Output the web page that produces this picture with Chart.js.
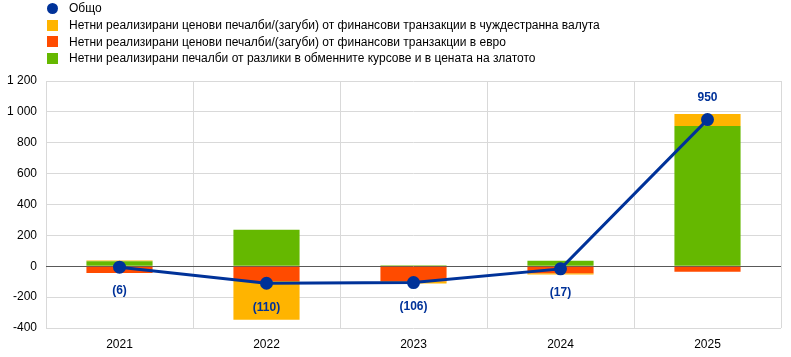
<!DOCTYPE html>
<html><head><meta charset="utf-8">
<script src="https://cdn.jsdelivr.net/npm/chart.js@4/dist/chart.umd.min.js"></script>
<style>
html,body{margin:0;padding:0;background:#fff;}
#wrap{position:relative;width:791px;height:357px;}
#legend{position:absolute;left:47px;top:0px;font-family:"Liberation Sans",Arial,sans-serif;font-size:12px;color:#000;}
.li{height:16.8px;line-height:16.8px;display:flex;align-items:center;}
.mk{width:11px;height:11px;margin-right:11px;flex:none;}
.dot{border-radius:50%;}
</style></head>
<body><div id="wrap"><canvas id="c" width="791" height="357"></canvas><div id="legend"></div></div>
<script>
const categories = ["2021","2022","2023","2024","2025"];
const totalLabel = "Общо";
const foreignLabel = "Нетни реализирани ценови печалби/(загуби) от финансови транзакции в чуждестранна валута";
const euroLabel = "Нетни реализирани ценови печалби/(загуби) от финансови транзакции в евро";
const fxGoldLabel = "Нетни реализирани печалби от разлики в обменните курсове и в цената на златото";
const totalValues = [-6, -110, -106, -17, 950];
const foreignValues = [6, -252, -15, -8, 78];
const euroValues = [-44, -95, -97, -45, -36];
const fxGoldValues = [32, 237, 6, 36, 908];
const yTicks = [-400, -200, 0, 200, 400, 600, 800, 1000, 1200];

const BLUE = "#003299", YELLOW = "#FFB400", RED = "#FF4B00", GREEN = "#65B800";

const legendItems = [
  {label: totalLabel, color: BLUE, dot: true},
  {label: foreignLabel, color: YELLOW},
  {label: euroLabel, color: RED},
  {label: fxGoldLabel, color: GREEN}
];
document.getElementById('legend').innerHTML = legendItems.map(it =>
  `<div class="li"><span class="mk${it.dot?' dot':''}" style="background:${it.color}"></span><span>${it.label}</span></div>`).join('');

function fmt(v){
  const s = Math.abs(v).toString().replace(/\B(?=(\d{3})+(?!\d))/g, ' ');
  return (v < 0 ? '-' : '') + s;
}

const labelPlugin = {
  id: 'totLabels',
  afterDatasetsDraw(chart){
    const meta = chart.getDatasetMeta(0);
    const ctx = chart.ctx;
    ctx.save();
    ctx.font = "bold 12px 'Liberation Sans', Arial, sans-serif";
    ctx.fillStyle = BLUE;
    ctx.textAlign = 'center';
    ctx.textBaseline = 'middle';
    meta.data.forEach((pt, i) => {
      const v = totalValues[i];
      const txt = v < 0 ? '(' + Math.abs(v) + ')' : String(v);
      const y = v < 0 ? pt.y + 24 : pt.y - 22;
      ctx.fillText(txt, pt.x, y);
    });
    ctx.restore();
  }
};

new Chart(document.getElementById('c'), {
  data: {
    labels: categories,
    datasets: [
      {type:'line', label: totalLabel, data: totalValues, borderColor: BLUE, backgroundColor: BLUE,
       borderWidth: 3, pointRadius: 5, pointHoverRadius: 5, order: 0, tension: 0},
      {type:'bar', label: fxGoldLabel, data: fxGoldValues, backgroundColor: GREEN, stack: 's', order: 1,
       categoryPercentage: 0.45, barPercentage: 1},
      {type:'bar', label: euroLabel, data: euroValues, backgroundColor: RED, stack: 's', order: 1,
       categoryPercentage: 0.45, barPercentage: 1},
      {type:'bar', label: foreignLabel, data: foreignValues, backgroundColor: YELLOW, stack: 's', order: 1,
       categoryPercentage: 0.45, barPercentage: 1}
    ]
  },
  options: {
    responsive: false,
    animation: false,
    layout: {padding: {top: 81, right: 10, left: 0, bottom: 0}},
    plugins: {legend: {display: false}, tooltip: {enabled: false}},
    scales: {
      x: {
        stacked: true,
        afterFit(scale){ scale.height = 29; },
        grid: {offset: true, color: '#d9d9d9', lineWidth: 1, drawTicks: false},
        border: {display: false},
        ticks: {color: '#000', font: {family: "'Liberation Sans', Arial, sans-serif", size: 12}, padding: 9}
      },
      y: {
        stacked: true,
        min: -400, max: 1200,
        afterBuildTicks(scale){ scale.ticks = yTicks.map(v => ({value: v})); },
        afterFit(scale){ scale.width = 46; },
        grid: {color: ctx => ctx.tick && ctx.tick.value === 0 ? '#595959' : '#d9d9d9', lineWidth: 1, drawTicks: false},
        border: {display: false},
        ticks: {color: '#000', font: {family: "'Liberation Sans', Arial, sans-serif", size: 12}, padding: 9,
                callback: v => fmt(v)}
      }
    }
  },
  plugins: [labelPlugin]
});
</script></body></html>
